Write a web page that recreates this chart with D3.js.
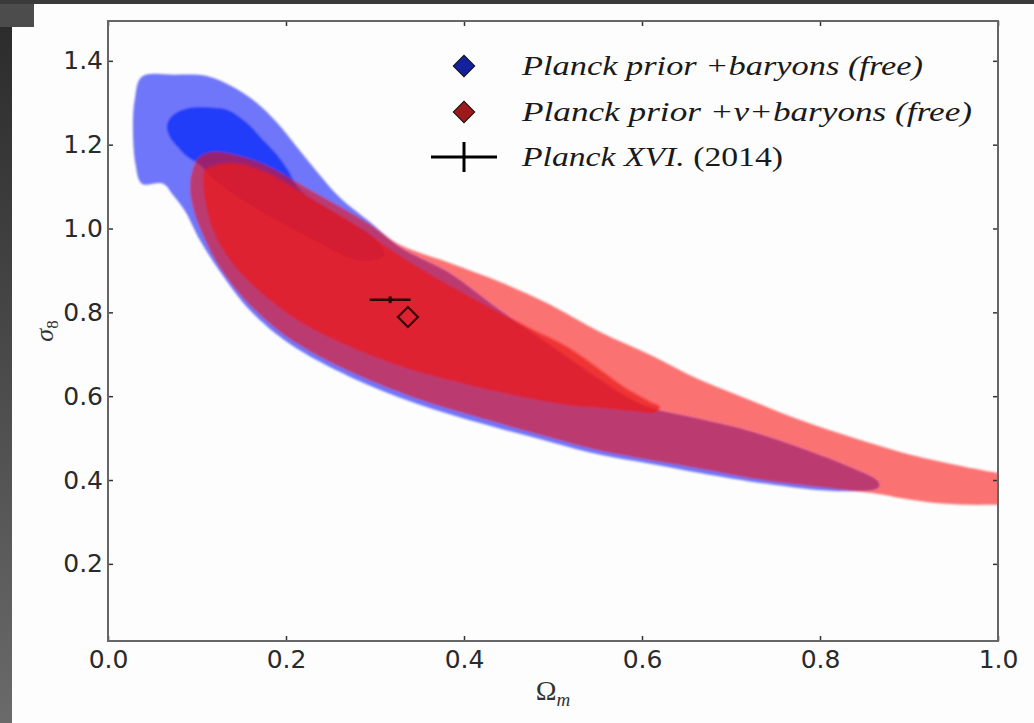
<!DOCTYPE html>
<html>
<head>
<meta charset="utf-8">
<script src="https://cdn.jsdelivr.net/npm/d3@7"></script>
<style>
  body { margin: 0; background: #fdfdfd; }
  svg { display: block; }
</style>
</head>
<body>
<div id="chart"></div>
<script>
// axis ticks
var xTicks = [0.0, 0.2, 0.4, 0.6, 0.8, 1.0];
var yTicks = [0.2, 0.4, 0.6, 0.8, 1.0, 1.2, 1.4];

// contour outlines, [Omega_m, sigma_8]
var blueOuter = [
  [0.038, 1.362], [0.075, 1.367], [0.111, 1.364], [0.140, 1.338], [0.167, 1.300],
  [0.190, 1.252], [0.212, 1.195], [0.235, 1.135], [0.261, 1.073], [0.294, 1.016],
  [0.328, 0.956], [0.384, 0.894], [0.440, 0.806], [0.497, 0.722], [0.553, 0.639],
  [0.601, 0.579], [0.665, 0.546], [0.721, 0.517], [0.778, 0.477], [0.834, 0.431],
  [0.864, 0.400], [0.867, 0.388], [0.864, 0.379], [0.815, 0.374], [0.740, 0.391],
  [0.665, 0.417], [0.609, 0.439], [0.553, 0.460], [0.497, 0.491], [0.421, 0.534],
  [0.347, 0.582], [0.272, 0.646], [0.204, 0.725], [0.160, 0.804], [0.126, 0.897],
  [0.103, 0.973], [0.087, 1.040], [0.073, 1.080], [0.062, 1.107], [0.038, 1.107],
  [0.031, 1.152], [0.028, 1.243], [0.030, 1.307]
];

var blueInner = [
  [0.066, 1.243], [0.070, 1.264], [0.078, 1.278], [0.092, 1.288], [0.103, 1.290],
  [0.120, 1.288], [0.134, 1.283], [0.156, 1.252], [0.174, 1.212], [0.190, 1.176],
  [0.202, 1.140], [0.216, 1.092], [0.261, 1.030], [0.300, 0.975], [0.310, 0.935],
  [0.280, 0.925], [0.230, 0.975], [0.165, 1.050], [0.120, 1.116], [0.103, 1.152],
  [0.089, 1.171], [0.078, 1.195], [0.070, 1.216]
];

var redOuter = [
  [0.103, 1.171], [0.118, 1.183], [0.148, 1.173], [0.179, 1.150], [0.208, 1.116],
  [0.235, 1.083], [0.261, 1.052], [0.294, 1.011], [0.328, 0.961], [0.384, 0.918],
  [0.440, 0.873], [0.497, 0.818], [0.553, 0.753], [0.609, 0.699], [0.665, 0.639],
  [0.721, 0.591], [0.778, 0.543], [0.834, 0.503], [0.890, 0.467], [0.946, 0.439],
  [1.000, 0.417], [1.025, 0.410], [1.025, 0.341], [1.000, 0.341], [0.965, 0.341],
  [0.927, 0.346], [0.890, 0.357], [0.864, 0.367], [0.815, 0.379], [0.740, 0.398],
  [0.665, 0.427], [0.553, 0.470], [0.497, 0.501], [0.421, 0.546], [0.347, 0.594],
  [0.272, 0.658], [0.204, 0.737], [0.160, 0.816], [0.126, 0.906], [0.107, 0.983],
  [0.096, 1.045], [0.092, 1.104], [0.097, 1.152]
];

var redInner = [
  [0.109, 1.140], [0.137, 1.157], [0.171, 1.140], [0.204, 1.104], [0.238, 1.059],
  [0.283, 1.002], [0.328, 0.935], [0.365, 0.887], [0.403, 0.842], [0.440, 0.799],
  [0.478, 0.758], [0.516, 0.718], [0.553, 0.663], [0.581, 0.620], [0.609, 0.587],
  [0.620, 0.575], [0.615, 0.561], [0.587, 0.565], [0.553, 0.572], [0.516, 0.579],
  [0.440, 0.610], [0.365, 0.649], [0.328, 0.672], [0.272, 0.718], [0.216, 0.777],
  [0.171, 0.849], [0.137, 0.925], [0.118, 0.997], [0.109, 1.068], [0.107, 1.116]
];

// Planck XVI (2014) point with error bar, and best fit marker
var planckPoint = [0.317, 0.830];
var planckErr = [0.023, 0.008];
var bestFit = [0.337, 0.789];

// legend
var legendLabels = ['Planck prior +baryons (free)', 'Planck prior +\u03bd+baryons (free)', 'Planck XVI.'];
var legendExtra = ['', '', ' (2014)'];
var legendColors = ['#14209e', '#9c1a1a', '#000'];
var legendWidths = [401, 450, 261];

var W = 1034, H = 723;
var margin = { top: 21, right: 36, bottom: 82, left: 108 },
    width = W - margin.left - margin.right,
    height = H - margin.top - margin.bottom;

var svg = d3.select('#chart').append('svg')
  .attr('width', W)
  .attr('height', H);

var defs = svg.append('defs');

// photo border (dark strips top and left)
var grad = defs.append('linearGradient')
  .attr('id', 'edge').attr('x1', 0).attr('y1', 0).attr('x2', 0).attr('y2', 1);
grad.append('stop').attr('offset', '0%').attr('stop-color', '#2c2c2c');
grad.append('stop').attr('offset', '100%').attr('stop-color', '#6a6a6a');
svg.append('rect').attr('x', 0).attr('y', 0).attr('width', 34).attr('height', 27).attr('fill', '#4c4c4c');
svg.append('rect').attr('x', 0).attr('y', 0).attr('width', W).attr('height', 4).attr('fill', '#3a3a3a');
svg.append('rect').attr('x', 0).attr('y', 27).attr('width', 12).attr('height', H - 27).attr('fill', 'url(#edge)');

defs.append('clipPath').attr('id', 'plotclip')
  .append('rect').attr('width', width).attr('height', height);

// soft edges like the scanned figure
defs.append('filter').attr('id', 'soft')
  .append('feGaussianBlur').attr('stdDeviation', 0.9);

var g = svg.append('g')
  .attr('transform', 'translate(' + margin.left + ',' + margin.top + ')');

var x = d3.scaleLinear().domain([0, 1]).range([0, width]);
var y = d3.scaleLinear().domain([0.016, 1.495]).range([height, 0]);

var area = d3.line()
  .x(function(d) { return x(d[0]); })
  .y(function(d) { return y(d[1]); })
  .curve(d3.curveCatmullRomClosed.alpha(0.5));

var contours = g.append('g').attr('clip-path', 'url(#plotclip)')
  .append('g').attr('filter', 'url(#soft)');

// blue drawn first, red on top with transparency
contours.append('path').attr('d', area(blueOuter)).attr('fill', '#7076fa');
contours.append('path').attr('d', area(blueInner)).attr('fill', '#233efa');
contours.append('path').attr('d', area(redOuter)).attr('fill', 'rgb(250,10,0)').attr('fill-opacity', 0.55);
contours.append('path').attr('d', area(redInner)).attr('fill', 'rgb(235,25,25)').attr('fill-opacity', 0.72);

var marks = g.append('g').attr('clip-path', 'url(#plotclip)');

// Planck XVI cross
marks.append('line')
  .attr('x1', x(planckPoint[0] - planckErr[0])).attr('x2', x(planckPoint[0] + planckErr[0]))
  .attr('y1', y(planckPoint[1])).attr('y2', y(planckPoint[1]))
  .attr('stroke', '#2a0505').attr('stroke-width', 2.5);
marks.append('line')
  .attr('x1', x(planckPoint[0])).attr('x2', x(planckPoint[0]))
  .attr('y1', y(planckPoint[1] - planckErr[1])).attr('y2', y(planckPoint[1] + planckErr[1]))
  .attr('stroke', '#2a0505').attr('stroke-width', 3);

// best fit open diamond
marks.append('path')
  .attr('d', d3.symbol().type(d3.symbolSquare).size(200)())
  .attr('transform', 'translate(' + x(bestFit[0]) + ',' + y(bestFit[1]) + ') rotate(45)')
  .attr('fill', 'none')
  .attr('stroke', '#3a0505')
  .attr('stroke-width', 2.2);

// axes, ticks pointing inwards
var xAxis = d3.axisBottom(x).tickValues(xTicks).tickSize(-5).tickPadding(9).tickFormat(d3.format('.1f'));
var yAxis = d3.axisLeft(y).tickValues(yTicks).tickSize(-5).tickPadding(5).tickFormat(d3.format('.1f'));

g.append('g').attr('transform', 'translate(0,' + height + ')').call(xAxis);
g.append('g').call(yAxis);
g.append('g').call(d3.axisTop(x).tickValues(xTicks).tickSize(-5).tickFormat(''));
g.append('g').attr('transform', 'translate(' + width + ',0)')
  .call(d3.axisRight(y).tickValues(yTicks).tickSize(-5).tickFormat(''));

g.selectAll('.domain').remove();
g.selectAll('.tick line').attr('stroke', '#333').attr('stroke-width', 1.5);
g.selectAll('.tick text')
  .attr('font-family', 'DejaVu Sans, sans-serif')
  .attr('font-size', 25)
  .attr('fill', '#2a2a2a');

// frame
g.append('rect')
  .attr('width', width).attr('height', height)
  .attr('fill', 'none')
  .attr('stroke', '#666')
  .attr('stroke-width', 2);

// axis labels
svg.append('text')
  .attr('x', margin.left + width / 2)
  .attr('y', 700)
  .attr('text-anchor', 'middle')
  .attr('font-family', 'Liberation Serif, serif')
  .attr('font-size', 28)
  .attr('fill', '#333')
  .html('\u03a9<tspan font-style="italic" font-size="19" dy="6">m</tspan>');

svg.append('text')
  .attr('transform', 'translate(53,' + (margin.top + height / 2) + ') rotate(-90)')
  .attr('text-anchor', 'middle')
  .attr('font-family', 'Liberation Serif, serif')
  .attr('font-size', 26)
  .attr('fill', '#333')
  .html('<tspan font-style="italic">\u03c3</tspan><tspan font-size="17" dy="5">8</tspan>');

// legend
var legend = svg.append('g').attr('class', 'legend');
var rowY = [66, 112, 157];

legendLabels.forEach(function(label, i) {
  var row = legend.append('g').attr('transform', 'translate(464,' + rowY[i] + ')');
  if (i < 2) {
    row.append('path')
      .attr('d', d3.symbol().type(d3.symbolSquare).size(230)())
      .attr('transform', 'rotate(45)')
      .attr('fill', legendColors[i])
      .attr('stroke', '#111')
      .attr('stroke-width', 1);
  } else {
    row.append('line').attr('x1', -33).attr('x2', 33).attr('y1', 0).attr('y2', 0)
      .attr('stroke', '#000').attr('stroke-width', 3);
    row.append('line').attr('x1', 0).attr('x2', 0).attr('y1', -15).attr('y2', 15)
      .attr('stroke', '#000').attr('stroke-width', 3);
  }
  var t = row.append('text')
    .attr('x', 58)
    .attr('y', 9)
    .attr('font-family', 'Liberation Serif, serif')
    .attr('font-size', 27)
    .attr('fill', '#1a1a1a')
    .attr('textLength', legendWidths[i])
    .attr('lengthAdjust', 'spacingAndGlyphs');
  t.append('tspan').attr('font-style', 'italic').text(label);
  if (legendExtra[i]) t.append('tspan').text(legendExtra[i]);
});
</script>
</body>
</html>
